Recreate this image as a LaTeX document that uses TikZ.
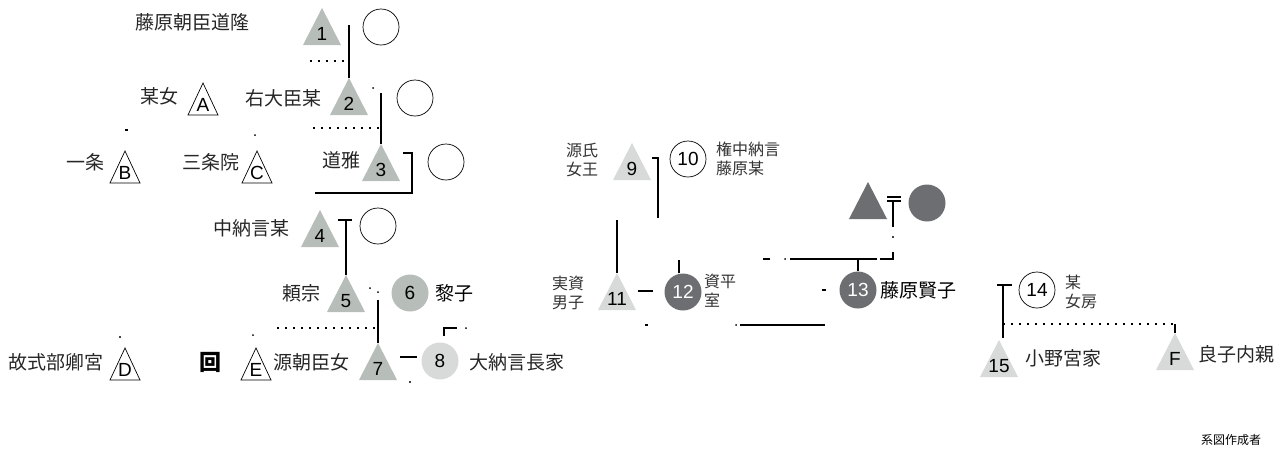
\documentclass[tikz,border=0pt]{standalone}
\usepackage{fontspec}
\setmainfont{Liberation Sans}
\newfontfamily\jp{Noto Sans CJK JP}
\definecolor{midgray}{HTML}{B7BDB9}
\definecolor{lightgray}{HTML}{D8D9D9}
\definecolor{darkgray}{HTML}{6D6E71}

% filled person triangle: name, position, fill colour, number
\newcommand\ptri[4]{%
  \coordinate (#1) at #2;
  \begin{scope}[shift={(#1)}]
    \fill[#3] (-19,18) -- (19,18) -- (0,-19) -- cycle;
    \coordinate (#1-top) at (0,-19);
    \node[num] (#1-l) at (0,7) {#4};
  \end{scope}}
% outlined lettered triangle
\newcommand\otri[3]{%
  \coordinate (#1) at #2;
  \begin{scope}[shift={(#1)}]
    \draw[line width=0.7pt, fill=white] (-15,16) -- (15,16) -- (0,-16) -- cycle;
    \coordinate (#1-top) at (0,-16);
    \node[num] (#1-l) at (0,6) {#3};
  \end{scope}}

\begin{document}
\begin{tikzpicture}[x=1pt, y=-1pt,
  num/.style={font=\fontsize{19}{19}\selectfont, inner sep=0},
  ring/.style={circle, draw, line width=0.7pt, minimum size=36pt, inner sep=0,
    font=\fontsize{19}{19}\selectfont},
  disc/.style={circle, fill=#1, minimum size=37pt, inner sep=0,
    font=\fontsize{19}{19}\selectfont},
  who/.style={font=\jp\fontsize{19}{21}\selectfont, inner sep=0, anchor=west,
    align=left, text=black!85},
  who2/.style={font=\jp\fontsize{16}{19}\selectfont, inner sep=0, anchor=west,
    align=left, text=black!80},
  link/.style={line width=1.4pt},
  faint/.style={line width=1.4pt, dash pattern=on 2pt off 6pt},
]
\useasboundingbox (0,0) rectangle (1281,448);

% ---- left branch ----
\node[who] (t1) at (135,22) {藤原朝臣道隆};
\ptri{p1}{(322,27)}{midgray}{1}
\node[ring] (c1) at (381,27) {};

\node[who] (tA) at (140,96) {某女};
\otri{oA}{(203,99)}{A}
\node[who] (t2) at (245,98) {右大臣某};
\ptri{p2}{(349,97)}{midgray}{2}
\node[ring] (c2) at (415,98) {};

\node[who] (tB) at (66,162) {一条};
\otri{oB}{(125,167)}{B}
\node[who] (tC) at (182,162) {三条院};
\otri{oC}{(257,167)}{C}
\node[who] (t3) at (322,160) {道雅};
\ptri{p3}{(381,163)}{midgray}{3}
\node[ring] (c3) at (446,162) {};

\node[who] (t4) at (213,228) {中納言某};
\ptri{p4}{(320,229)}{midgray}{4}
\node[ring] (c4) at (378,226) {};

\node[who] (t5) at (282,293) {頼宗};
\ptri{p5}{(346,294)}{midgray}{5}
\node[disc=midgray] (c6) at (410,293) {6};
\node[who, text=black] (t6) at (435,293) {黎子};

\node[who] (tD) at (8,362) {故式部卿宮};
\otri{oD}{(125,364)}{D}
\node[who, font=\jp\bfseries\fontsize{22}{22}\selectfont, text=black] (box) at (199,362) {回};
\otri{oE}{(256,364)}{E}
\node[who] (tE) at (273,362) {源朝臣女};
\ptri{p7}{(378,362)}{midgray}{7}
\node[disc=lightgray] (c8) at (440,361) {8};
\node[who] (t8) at (469,362) {大納言長家};

% left branch connectors
\draw[link] (p2-top) -- ++(0,-53);
\draw[faint] (310,61) -- (348,61);
\draw[link] (p3-top) -- ++(0,-51);
\fill (373,88) circle (1pt);
\draw[faint] (313,128) -- (380,128);
\draw[link] (oB-top) ++(0,-21) -- ++(3,0);
\fill (255,135) circle (1pt);
\draw[link] (403,153) -- (412,153) -- (412,193) -- (315,193);
\draw[link] (338,220) -- (352,220);
\draw[link] (p5-top) -- ++(0,-55);
\fill (370,288) circle (1pt) (378,292) circle (1pt);
\draw[link] (p7-top) -- ++(0,-43);
\draw[faint] (277,328) -- (378,328);
\draw[link] (400,357) -- (417,357);
\draw[link] (444,336) -- (444,328) -- (457,328);
\fill (466,328) circle (1pt);
\fill (410,382) circle (1.2pt);
\fill (120,337) circle (1.2pt);
\fill (253,335) circle (1pt);

% ---- middle branch ----
\node[who2] (t9) at (566,160) {源氏\\女王};
\ptri{p9}{(632,162)}{lightgray}{9}
\node[ring] (c10) at (688,159) {10};
\node[who2] (t10) at (716,159) {権中納言\\藤原某};

\node[who2] (t11) at (552,293) {実資\\男子};
\ptri{p11}{(617,292)}{lightgray}{11}
\node[disc=darkgray, text=white] (c12) at (683,292) {12};
\node[who2] (t12) at (704,291) {資平\\室};

\ptri{pX}{(868,201)}{darkgray}{}
\node[disc=darkgray] (cX) at (927,203) {};
\node[disc=darkgray, text=white] (c13) at (858,290) {13};
\node[who, text=black] (t13) at (880,290) {藤原賢子};

\draw[link] (652,158) -- (658,158) -- (658,218);
\draw[link] (p11-top) -- ++(0,-53);
\draw[link] (638,291) -- (653,291);
\draw[link] (c12.north) ++(-4,0) -- ++(0,-13);
\draw[link] (645,325) -- (648,325);
\fill (736,325) circle (1pt);
\draw[link] (740,325) -- (825,325);
\draw[link] (887,197) -- (901,197) (887,201) -- (901,201);
\draw[link] (893,201) -- (893,227);
\fill (893,237) circle (1.2pt);
\draw[link] (893,252) -- (893,259) -- (880,259);
\draw[link] (877,259) -- (790,259);
\fill (785,259) circle (1pt);
\draw[link] (763,259) -- (770,259);
\draw[link] (c13.north) -- ++(0,-13);
\draw[link] (822,290) -- (826,290);

% ---- right branch ----
\node[ring] (c14) at (1037,290) {14};
\node[who2] (t14) at (1065,292) {某\\女房};
\ptri{p15}{(999,359)}{lightgray}{15}
\node[who] (t15) at (1025,358) {小野宮家};
\ptri{pF}{(1175,352)}{lightgray}{F}
\node[who] (tF) at (1198,354) {良子内親};

\draw[link] (997,285) -- (1012,285);
\draw[link] (1003,285) -- (1003,338);
\draw[faint] (1003,324) -- (1175,324);
\draw[link] (pF-top) -- ++(0,-9);

\node[who, font=\jp\fontsize{12}{12}\selectfont, text=black] (note) at (1201,440) {系図作成者};
\end{tikzpicture}
\end{document}
